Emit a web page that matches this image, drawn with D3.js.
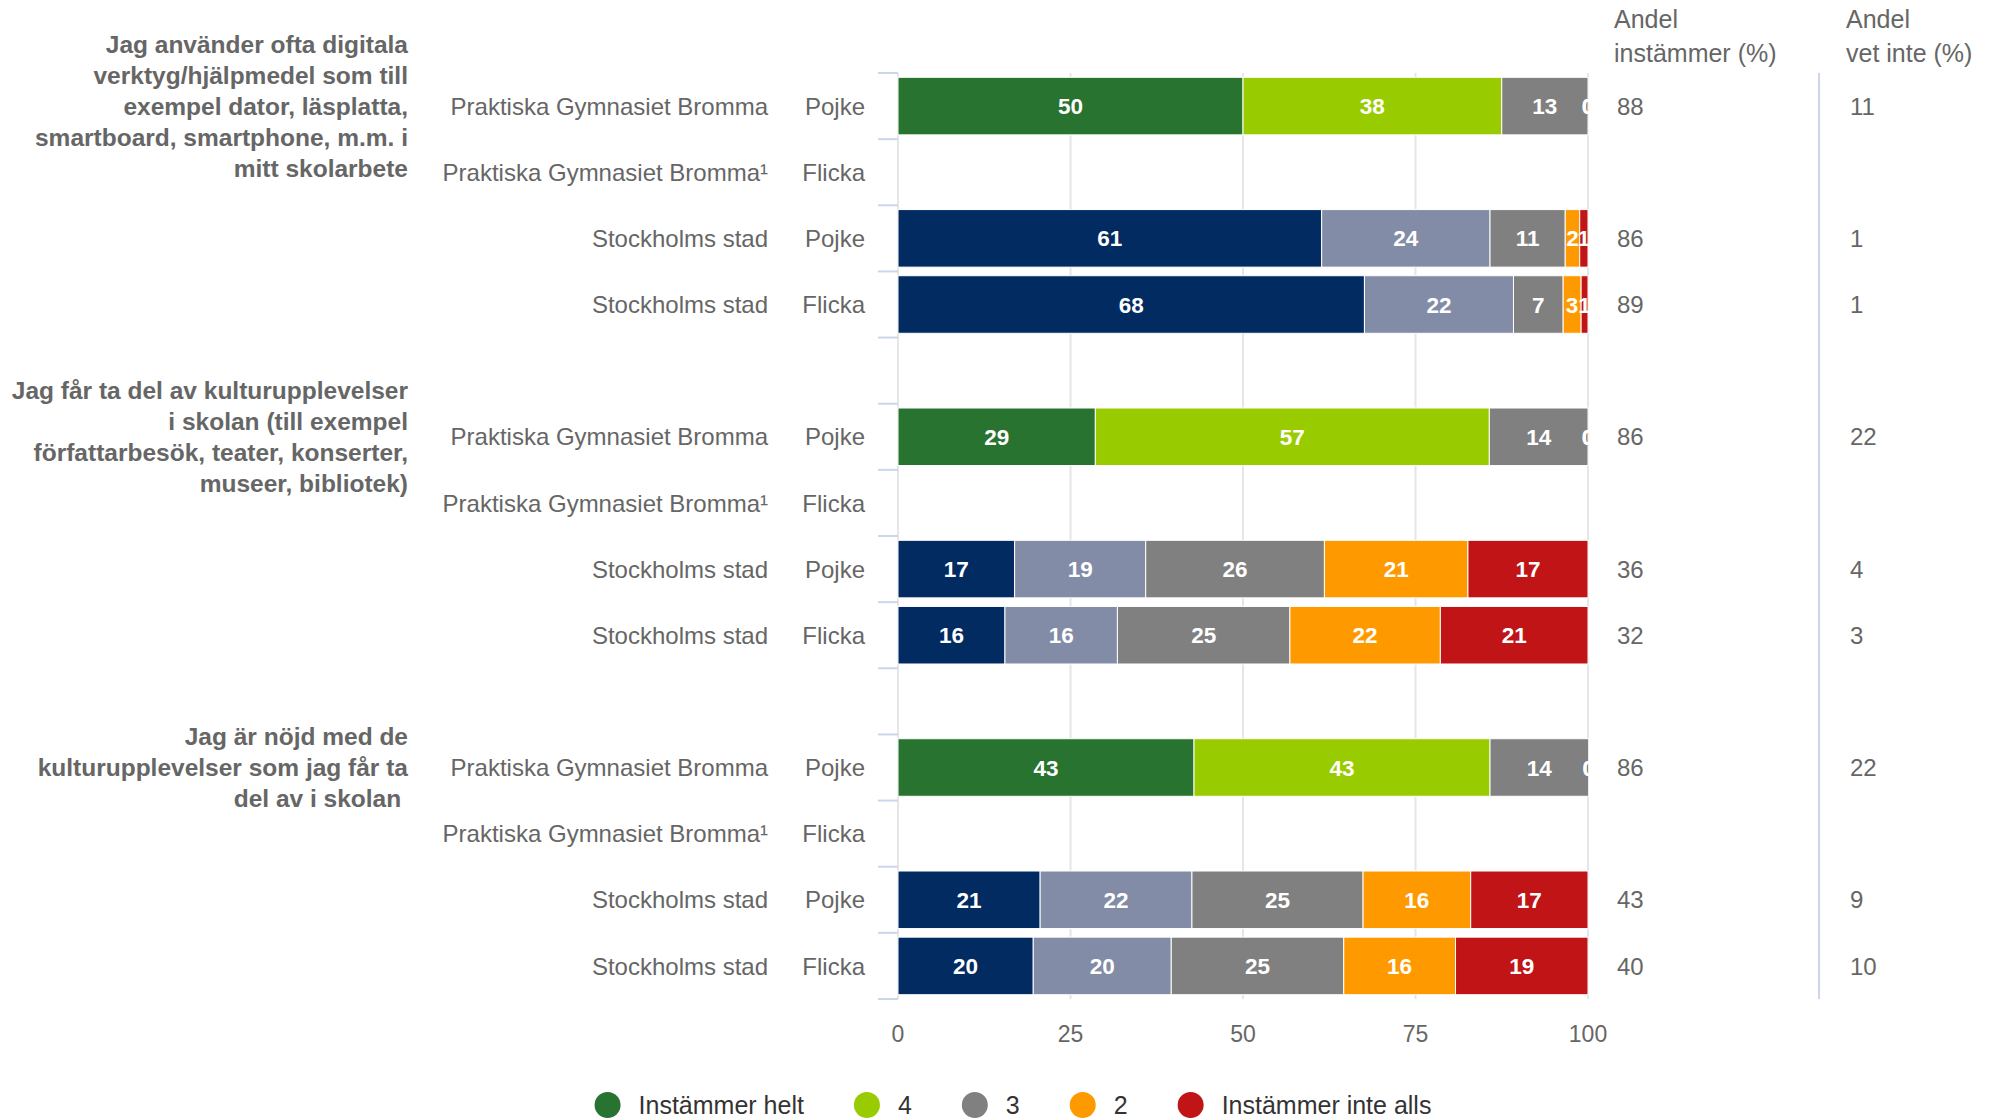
<!DOCTYPE html>
<html lang="sv">
<head>
  <meta charset="UTF-8">
  <title>Enkät</title>
  <script src="https://cdn.jsdelivr.net/npm/d3@7/dist/d3.min.js"></script>
  <style>
    body { margin: 0; background: #fff; }
    svg text { font-family: 'Liberation Sans', Arial, Helvetica, sans-serif; }
  </style>
</head>
<body>
  <div id="chart"></div>
  <script>
    // questions (line breaks as in the report)
    const questions = [
      ['Jag använder ofta digitala', 'verktyg/hjälpmedel som till', 'exempel dator, läsplatta,', 'smartboard, smartphone, m.m. i', 'mitt skolarbete'],
      ['Jag får ta del av kulturupplevelser', 'i skolan (till exempel', 'författarbesök, teater, konserter,', 'museer, bibliotek)'],
      ['Jag är nöjd med de', 'kulturupplevelser som jag får ta', 'del av i skolan\u00a0']
    ];
    const schools = ['Praktiska Gymnasiet Bromma', 'Praktiska Gymnasiet Bromma\u00b9', 'Stockholms stad', 'Stockholms stad'];
    const genders = ['Pojke', 'Flicka', 'Pojke', 'Flicka'];

    // one value per row, 3 questions x 4 rows (null = no data)
    const helt     = [50, null, 61.4, 67.6,   28.6, null, 16.9, 15.5,   42.9, null, 20.6, 19.6];
    const fyra     = [37.5, null, 24.4, 21.6, 57.1, null, 19.0, 16.3,   42.9, null, 22.0, 20.0];
    const tre      = [12.5, null, 10.9, 7.2,  14.3, null, 25.9, 25.0,   14.3, null, 24.8, 25.0];
    const tva      = [0, null, 2.1, 2.6,      0, null, 20.8, 21.8,      0, null, 15.6, 16.2];
    const inteAlls = [0, null, 1.2, 1.0,      0, null, 17.4, 21.4,      0, null, 17.0, 19.2];

    const andelInstammer = [88, null, 86, 89, 86, null, 36, 32, 86, null, 43, 40];
    const andelVetInte   = [11, null, 1, 1,   22, null, 4, 3,   22, null, 9, 10];

    const xTicks = [0, 25, 50, 75, 100];
    const legendNames = ['Instämmer helt', '4', '3', '2', 'Instämmer inte alls'];

    const colors = ['#27732f', '#99cc00', '#808080', '#ff9900', '#c01417'];
    const cityColors = ['#022b62', '#828ca6', '#808080', '#ff9900', '#c01417'];

    const W = 1994, H = 1119;
    const svg = d3.select('#chart').append('svg')
      .attr('width', W).attr('height', H);

    const x = d3.scaleLinear().domain([0, 100]).range([898, 1588]);
    // 14 slots: 4 rows per question + an empty slot between questions
    const y = d3.scaleBand().domain(d3.range(14)).range([73, 999])
      .paddingInner(0.13).paddingOuter(0.065);
    const step = y.step();
    const slotOf = i => Math.floor(i / 4) * 5 + (i % 4);
    const mid = s => y(s) + y.bandwidth() / 2;

    // grid lines
    svg.append('g').selectAll('line').data(xTicks).join('line')
      .attr('x1', d => x(d)).attr('x2', d => x(d))
      .attr('y1', 73).attr('y2', 999)
      .attr('stroke', '#e6e6e6').attr('stroke-width', 2);

    // x axis labels
    svg.append('g').selectAll('text').data(xTicks).join('text')
      .attr('x', d => x(d)).attr('y', 1042)
      .attr('text-anchor', 'middle')
      .attr('font-size', 23).attr('fill', '#666')
      .text(d => d);

    // category ticks on the left
    svg.append('g').selectAll('line').data(d3.range(15)).join('line')
      .attr('x1', 878).attr('x2', 898)
      .attr('y1', d => 73 + d * step).attr('y2', d => 73 + d * step)
      .attr('stroke', '#ccd6eb').attr('stroke-width', 2);

    // separator between the two value columns
    svg.append('line')
      .attr('x1', 1819).attr('x2', 1819).attr('y1', 73).attr('y2', 999)
      .attr('stroke', '#ccd6eb').attr('stroke-width', 2);

    // stacked bars
    const series = [helt, fyra, tre, tva, inteAlls];
    const rows = d3.range(12).map(i => {
      let acc = 0;
      const city = (i % 4) >= 2;
      const segs = series.map((s, k) => {
        const v = s[i];
        const seg = { v, x0: acc, x1: acc + (v || 0), color: (city ? cityColors : colors)[k] };
        acc += v || 0;
        return seg;
      });
      return { i, slot: slotOf(i), has: helt[i] != null, segs };
    });

    const rowG = svg.append('g').selectAll('g').data(rows.filter(r => r.has)).join('g');
    rowG.selectAll('rect').data(r => r.segs.map(s => ({ ...s, slot: r.slot }))).join('rect')
      .attr('x', d => x(d.x0)).attr('width', d => x(d.x1) - x(d.x0))
      .attr('y', d => y(d.slot)).attr('height', y.bandwidth())
      .attr('fill', d => d.color)
      .attr('stroke', '#fff').attr('stroke-width', 1);
    rowG.selectAll('text').data(r => r.segs.map(s => ({ ...s, slot: r.slot }))).join('text')
      .attr('x', d => x((d.x0 + d.x1) / 2)).attr('y', d => mid(d.slot))
      .attr('dy', '0.36em').attr('text-anchor', 'middle')
      .attr('font-size', 22.5).attr('font-weight', 'bold').attr('fill', '#fff')
      .text(d => Math.round(d.v));

    // school / gender labels
    const lab = svg.append('g').attr('font-size', 24).attr('fill', '#666');
    lab.selectAll('.school').data(d3.range(12)).join('text')
      .attr('class', 'school')
      .attr('x', 768).attr('y', i => mid(slotOf(i))).attr('dy', '0.36em')
      .attr('text-anchor', 'end')
      .text(i => schools[i % 4]);
    lab.selectAll('.gender').data(d3.range(12)).join('text')
      .attr('class', 'gender')
      .attr('x', 865).attr('y', i => mid(slotOf(i))).attr('dy', '0.36em')
      .attr('text-anchor', 'end')
      .text(i => genders[i % 4]);

    // question labels, centred on the first row of each group
    questions.forEach((lines, q) => {
      const cy = mid(q * 5);
      const lh = 31;
      const t = svg.append('text')
        .attr('text-anchor', 'end').attr('font-size', 24.5)
        .attr('font-weight', 'bold').attr('fill', '#666');
      lines.forEach((ln, j) => {
        t.append('tspan').attr('x', 408)
          .attr('y', cy + (j - (lines.length - 1) / 2) * lh)
          .attr('dy', '0.36em').text(ln);
      });
    });

    // value columns
    const col = svg.append('g').attr('font-size', 24).attr('fill', '#666');
    [['Andel', 'instämmer (%)'], ['Andel', 'vet inte (%)']].forEach((h, k) => {
      const t = col.append('text').attr('font-size', 25);
      h.forEach((ln, j) => t.append('tspan').attr('x', k ? 1846 : 1614).attr('y', 28 + j * 34).text(ln));
    });
    col.selectAll('.a1').data(d3.range(12).filter(i => andelInstammer[i] != null)).join('text')
      .attr('x', 1617).attr('y', i => mid(slotOf(i))).attr('dy', '0.36em')
      .text(i => andelInstammer[i]);
    col.selectAll('.a2').data(d3.range(12).filter(i => andelVetInte[i] != null)).join('text')
      .attr('x', 1850).attr('y', i => mid(slotOf(i))).attr('dy', '0.36em')
      .text(i => andelVetInte[i]);

    // legend
    const legend = svg.append('g');
    const gap = 50;
    let lx = 0;
    legendNames.forEach((name, k) => {
      const g = legend.append('g');
      g.append('circle').attr('cx', 13).attr('cy', 0).attr('r', 13).attr('fill', colors[k]);
      const t = g.append('text').attr('x', 44).attr('dy', '0.36em')
        .attr('font-size', 25).attr('fill', '#333').text(name);
      const w = 44 + t.node().getComputedTextLength();
      g.attr('transform', `translate(${lx},0)`);
      lx += w + gap;
    });
    const total = lx - gap;
    legend.attr('transform', `translate(${1013 - total / 2},1105)`);
  </script>
</body>
</html>
